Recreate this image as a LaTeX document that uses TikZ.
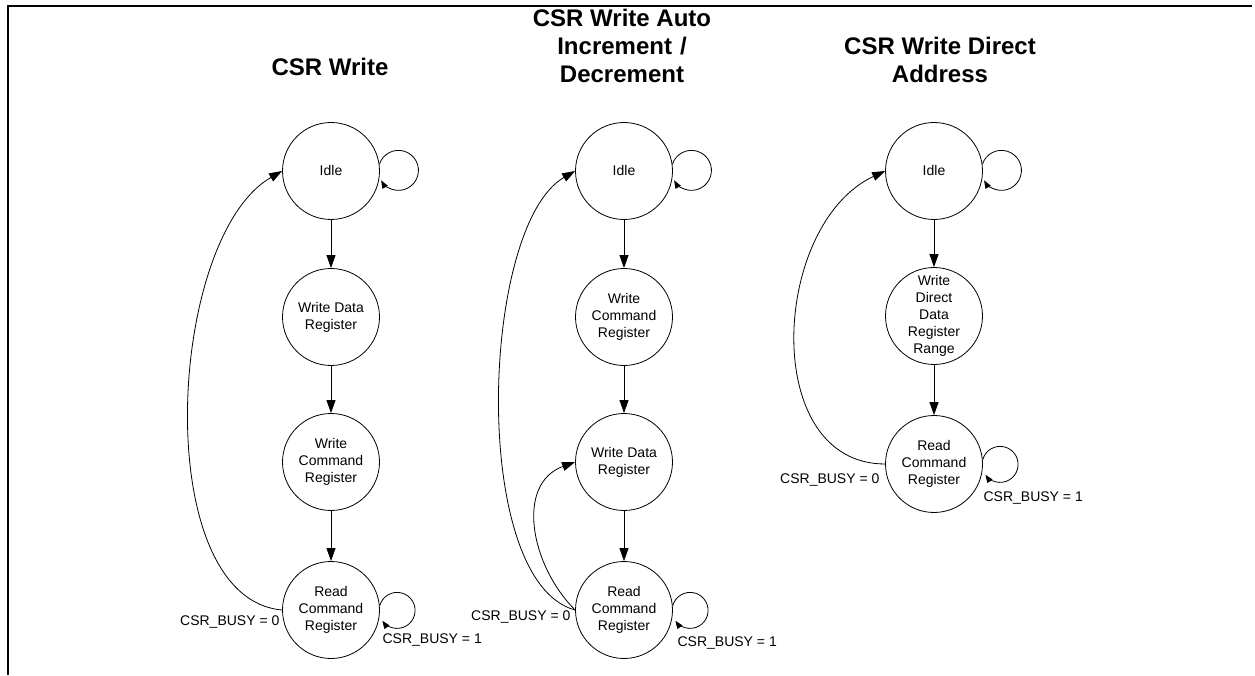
\documentclass[tikz,border=0pt]{standalone}
\usepackage{fontspec}
\setmainfont{Liberation Sans}
\usetikzlibrary{positioning,arrows.meta}

\tikzset{
  state/.style={draw, circle, line width=0.8pt, minimum size=97pt, inner sep=0pt, align=center, font=\fontsize{14}{17}\selectfont},
  title/.style={align=center, font=\bfseries\fontsize{24}{28}\selectfont},
  busy/.style={inner sep=0pt, font=\fontsize{14}{17}\selectfont},
  trans/.style={line width=0.8pt, -{Triangle[length=13pt,width=9pt]}},
  selfloop/.style={line width=0.8pt, -{Triangle[length=8pt,width=6pt]}},
}

\begin{document}
\begin{tikzpicture}[x=1pt,y=1pt]
\useasboundingbox (0,0) rectangle (1255,675);
% frame is open on the right and at the bottom
\draw[line width=2.5pt] (8,0) -- (8,669) -- (1252,669);

% CSR Write
\node[title] (titA) at (330,608) {CSR Write};
\node[state] (idleA) at (331,504) {Idle};
\node[state] (wdrA) at (331,358) {Write Data\\Register};
\node[state] (wcrA) at (331,213) {Write\\Command\\Register};
\node[state] (rcrA) at (331,65) {Read\\Command\\Register};

\draw[trans] (idleA) -- (wdrA);
\draw[trans] (wdrA) -- (wcrA);
\draw[trans] (wcrA) -- (rcrA);
\draw[trans] (rcrA.west) to[out=175, in=210, looseness=0.78] (idleA.west);
\draw[selfloop] (idleA.8) arc[start angle=162, end angle=-150, radius=20];
\draw[selfloop] (rcrA.5) arc[start angle=165, end angle=-145, radius=18];
\node[busy, anchor=east] (busy0A) at ([xshift=-2.5pt, yshift=-12pt]rcrA.west) {CSR\_BUSY = 0};
\node[busy, anchor=west] (busy1A) at ([xshift=2.5pt, yshift=-30pt]rcrA.east) {CSR\_BUSY = 1};

% CSR Write Auto Increment / Decrement
\node[title] (titB) at (622,629) {CSR Write Auto\\Increment\,\,/\\Decrement};
\node[state] (idleB) at (624,504) {Idle};
\node[state] (wcrB) at (624,358) {Write\\Command\\Register};
\node[state] (wdrB) at (624,213) {Write Data\\Register};
\node[state] (rcrB) at (624,65) {Read\\Command\\Register};

\draw[trans] (idleB) -- (wcrB);
\draw[trans] (wcrB) -- (wdrB);
\draw[trans] (wdrB) -- (rcrB);
\draw[trans] (rcrB.west) to[out=165, in=210, looseness=0.64] (idleB.west);
\draw[trans] (rcrB.west) to[out=135, in=200, looseness=1.1] (wdrB.west);
\draw[selfloop] (idleB.8) arc[start angle=162, end angle=-150, radius=20];
\draw[selfloop] (rcrB.5) arc[start angle=165, end angle=-145, radius=18];
\node[busy, anchor=east] (busy0B) at ([xshift=-4.5pt, yshift=-7pt]rcrB.west) {CSR\_BUSY = 0};
\node[busy, anchor=west] (busy1B) at ([xshift=4.5pt, yshift=-33pt]rcrB.east) {CSR\_BUSY = 1};

% CSR Write Direct Address
\node[title] (titC) at (940,615) {CSR Write Direct\\Address};
\node[state] (idleC) at (934,504) {Idle};
\node[state] (wddC) at (934,359) {Write\\Direct\\Data\\Register\\Range};
\node[state] (rcrC) at (934,211) {Read\\Command\\Register};

\draw[trans] (idleC) -- (wddC);
\draw[trans] (wddC) -- (rcrC);
\draw[trans] (rcrC.west) to[out=180, in=205, looseness=1.1] (idleC.west);
\draw[selfloop] (idleC.8) arc[start angle=162, end angle=-150, radius=20];
\draw[selfloop] (rcrC.5) arc[start angle=165, end angle=-145, radius=18];
\node[busy, anchor=east] (busy0C) at ([xshift=-5.5pt, yshift=-16pt]rcrC.west) {CSR\_BUSY = 0};
\node[busy, anchor=west] (busy1C) at ([xshift=0.5pt, yshift=-34pt]rcrC.east) {CSR\_BUSY = 1};
\end{tikzpicture}
\end{document}
